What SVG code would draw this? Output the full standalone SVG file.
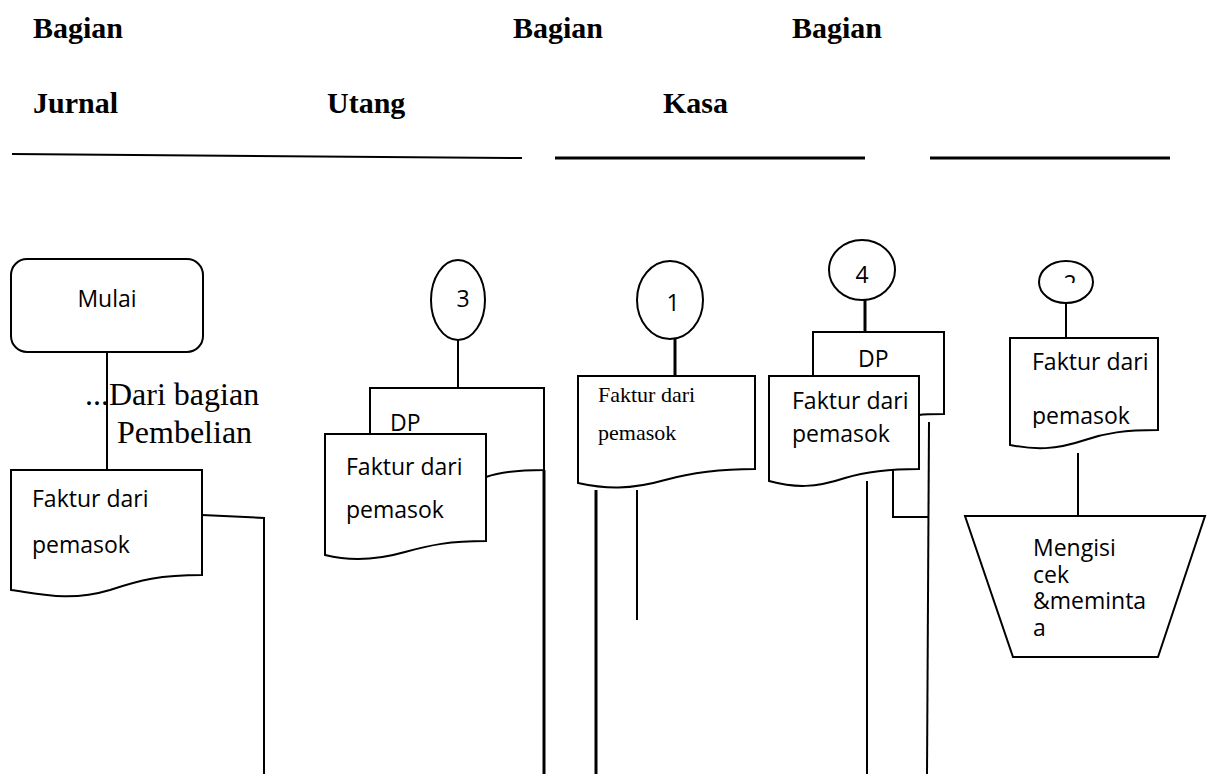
<svg xmlns="http://www.w3.org/2000/svg" width="1213" height="774" viewBox="0 0 1213 774">
<style>
.hd{font-family:"Liberation Serif",serif;font-weight:bold;font-size:30px;fill:#000}
.sh{fill:#fff;stroke:#000;stroke-width:2}
.t{font-family:"Open Sans","Liberation Sans",sans-serif;font-size:23px;fill:#000}
.ts{font-family:"Liberation Serif",serif;fill:#000}
.ln{stroke:#000;stroke-width:2;fill:none}
.lt{stroke:#000;stroke-width:3;fill:none}
</style>
<defs>
<clipPath id="c2"><rect x="1040" y="262" width="50" height="21"/></clipPath>
<clipPath id="cp"><rect x="1011" y="339" width="146" height="89"/></clipPath>
</defs>
<g id="header">
<text class="hd" x="33" y="38">Bagian</text>
<text class="hd" x="513" y="38">Bagian</text>
<text class="hd" x="792" y="38">Bagian</text>
<text class="hd" x="33" y="113">Jurnal</text>
<text class="hd" x="327" y="113">Utang</text>
<text class="hd" x="663" y="113">Kasa</text>
<line class="ln" x1="12" y1="154" x2="522" y2="158"/>
<line class="lt" x1="555" y1="158" x2="865" y2="158"/>
<line class="lt" x1="930" y1="158" x2="1170" y2="158"/>
</g>
<g id="connectors">
<line class="ln" x1="107" y1="352" x2="107" y2="470"/>
<polyline class="ln" points="202,515 264,518 264,774"/>
<line class="ln" x1="458" y1="340" x2="458" y2="388"/>
<line class="lt" x1="544" y1="470" x2="544" y2="774"/>
<line class="lt" x1="675" y1="339" x2="675" y2="376"/>
<line class="lt" x1="596" y1="490" x2="596" y2="774"/>
<line class="ln" x1="637" y1="490" x2="637" y2="620"/>
<line class="lt" x1="865" y1="299" x2="865" y2="332"/>
<line class="ln" x1="867" y1="481" x2="867" y2="774"/>
<polyline class="ln" points="893,452 893,517 929,517"/>
<line class="ln" x1="929" y1="422" x2="927" y2="774"/>
<line class="ln" x1="1066" y1="303" x2="1066" y2="338"/>
<line class="ln" x1="1078" y1="453" x2="1078" y2="516"/>
</g>
<g id="mulai">
<rect class="sh" x="11" y="259" width="192" height="93" rx="16"/>
<text class="t" x="107" y="307" text-anchor="middle">Mulai</text>
</g>
<g id="label-dari">
<text class="ts" font-size="32" x="85" y="405">...Dari bagian</text>
<text class="ts" font-size="32" x="117" y="443">Pembelian</text>
</g>
<g id="doc1">
<path class="sh" d="M11,470 H202 V575 C160,575 140,580 110,590 C70,602 40,594 11,590 Z"/>
<text class="t" x="32" y="507">Faktur dari</text>
<text class="t" x="32" y="553">pemasok</text>
</g>
<g id="con3">
<ellipse class="sh" cx="458" cy="300" rx="27" ry="40"/>
<text class="t" x="463" y="307" font-size="20" text-anchor="middle">3</text>
</g>
<g id="dp3">
<path class="sh" d="M370,388 H544 V470 C520,470 500,472 486,477 L486,480 H370 Z"/>
<text class="t" x="390" y="431">DP</text>
</g>
<g id="doc3">
<path class="sh" d="M325,434 H486 V541 C450,541 430,545 405,552 C370,562 345,560 325,555 Z"/>
<text class="t" x="346" y="475">Faktur dari</text>
<text class="t" x="346" y="518">pemasok</text>
</g>
<g id="con1">
<ellipse class="sh" cx="670" cy="300" rx="33" ry="39"/>
<text class="t" x="673" y="311" font-size="20" text-anchor="middle">1</text>
</g>
<g id="doc-kasa1">
<path class="sh" d="M578,376 H755 V469 C715,469 690,473 665,480 C630,490 605,489 578,483 Z"/>
<text class="ts" font-size="22" x="598" y="402">Faktur dari</text>
<text class="ts" font-size="22" x="598" y="440">pemasok</text>
</g>
<g id="con4">
<ellipse class="sh" cx="862" cy="270" rx="33" ry="30"/>
<text class="t" x="862" y="283" font-size="20" text-anchor="middle">4</text>
</g>
<g id="dp4">
<path class="sh" d="M813,332 H944 V414 C935,414 925,414 919,415 L919,420 H813 Z"/>
<text class="t" x="858" y="367" font-size="22">DP</text>
</g>
<g id="doc4">
<path class="sh" d="M769,376 H919 V469 C885,469 865,472 845,478 C815,488 795,488 769,481 Z"/>
<text class="t" x="792" y="409" font-size="21">Faktur dari</text>
<text class="t" x="792" y="442" font-size="22">pemasok</text>
</g>
<g id="con2">
<ellipse class="sh" cx="1066" cy="282" rx="27" ry="21"/>
<text class="t" x="1070" y="292" font-size="20" text-anchor="middle" clip-path="url(#c2)">2</text>
</g>
<g id="doc-kasa2">
<path class="sh" d="M1010,338 H1158 V430 C1125,430 1105,433 1085,440 C1055,450 1035,450 1010,445 Z"/>
<text class="t" x="1032" y="370" font-size="21">Faktur dari</text>
<text class="t" x="1032" y="424" font-size="22" clip-path="url(#cp)">pemasok</text>
</g>
<g id="manual">
<path class="sh" d="M965,516 H1205 L1158,657 H1013 Z"/>
<text class="t" font-size="16" x="1033" y="556"><tspan x="1033">Mengisi</tspan><tspan x="1033" dy="26.5">cek</tspan><tspan x="1033" dy="26.5">&amp;meminta</tspan><tspan x="1033" dy="26.5">a</tspan></text>
</g>
</svg>
